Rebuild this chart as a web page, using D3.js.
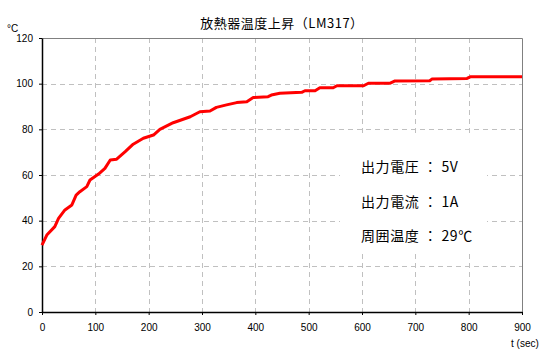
<!DOCTYPE html>
<html>
<head>
<meta charset="utf-8">
<script src="https://cdn.jsdelivr.net/npm/d3@7"></script>
<style>
  body { margin: 0; background: #fff; }
  svg { font-family: "Liberation Sans", "Noto Sans CJK JP", sans-serif; }
  .jp { font-family: "Noto Sans CJK JP", sans-serif; }
</style>
</head>
<body>
<svg id="chart"></svg>
<script>
// time (sec) and heat sink temperature (°C)
const timeSec = [0, 9, 24, 31, 43, 56, 64, 71, 84, 90, 106, 118, 128, 140, 156, 171, 190, 209, 221, 246, 278, 296, 315,
  327, 346, 365, 384, 396, 424, 430, 446, 487, 493, 512, 521, 546, 553, 603, 612, 653, 662, 727, 731, 797, 803, 900];
const tempC = [29.3, 33.7, 37.4, 41, 44.7, 46.9, 51.2, 52.7, 54.9, 57.8, 60.4, 62.9, 66.6, 66.9, 70.2, 73.5, 76.1, 77.5, 80, 82.9, 85.5, 87.7, 88,
  89.6, 90.7, 91.7, 92.1, 93.9, 94.3, 95, 95.8, 96.2, 96.9, 96.9, 98.2, 98.2, 99.1, 99.1, 100.2, 100.2, 101.2, 101.3, 102, 102.3, 103, 103];

const xTicks = [0, 100, 200, 300, 400, 500, 600, 700, 800, 900];
const yTicks = [0, 20, 40, 60, 80, 100, 120];

const titleText = '放熱器温度上昇（LM317）';
const notes = ['出力電圧 ： 5V', '出力電流 ： 1A', '周囲温度 ： 29℃'];

const config = {
    width: 553,
    height: 354,
    margin: { top: 38, right: 31, bottom: 42, left: 42 }
};

const innerW = config.width - config.margin.left - config.margin.right;
const innerH = config.height - config.margin.top - config.margin.bottom;

const svg = d3.select('#chart')
    .attr('width', config.width)
    .attr('height', config.height);

const chart = svg.append('g')
    .attr('transform', `translate(${config.margin.left}, ${config.margin.top})`);

const x = d3.scaleLinear().domain([0, 900]).range([0, innerW]);
const y = d3.scaleLinear().domain([0, 120]).range([innerH, 0]);

// Gridlines
chart.append('g')
    .selectAll('line.vgrid')
    .data(xTicks.filter(d => d > 0 && d < 900))
    .enter().append('line')
    .attr('x1', d => Math.round(x(d)) + 0.5)
    .attr('x2', d => Math.round(x(d)) + 0.5)
    .attr('y1', 0)
    .attr('y2', innerH)
    .attr('stroke', '#c0c0c0')
    .attr('stroke-dasharray', '5,4');

chart.append('g')
    .selectAll('line.hgrid')
    .data(yTicks.filter(d => d > 0 && d < 120))
    .enter().append('line')
    .attr('x1', 0)
    .attr('x2', innerW)
    .attr('y1', d => Math.round(y(d)) + 0.5)
    .attr('y2', d => Math.round(y(d)) + 0.5)
    .attr('stroke', '#c0c0c0')
    .attr('stroke-dasharray', '5,4');

// Top and right frame
chart.append('path')
    .attr('d', `M-3,0.5H${innerW + 0.5}V${innerH}`)
    .attr('fill', 'none')
    .attr('stroke', '#808080')
    .attr('stroke-width', 1);

// Axes
const xAxis = d3.axisBottom(x).tickValues(xTicks).tickSize(3).tickSizeOuter(0);
const yAxis = d3.axisLeft(y).tickValues(yTicks).tickSize(3).tickSizeOuter(0);

const xAxisGroup = chart.append('g')
    .attr('transform', `translate(0, ${innerH})`)
    .call(xAxis);
xAxisGroup.selectAll('text').attr('dy', '1.3em').style('font-size', '10px').attr('fill', '#000');

const yAxisGroup = chart.append('g').call(yAxis);
yAxisGroup.selectAll('text').attr('x', -9).style('font-size', '10px').attr('fill', '#000');

chart.selectAll('.domain').attr('stroke', '#000').attr('stroke-width', 1.5);
chart.selectAll('.tick line').attr('stroke', '#000');

// Data line
const line = d3.line()
    .x((d, i) => x(timeSec[i]))
    .y(d => y(d));

chart.append('path')
    .datum(tempC)
    .attr('fill', 'none')
    .attr('stroke', '#ff0000')
    .attr('stroke-width', 3)
    .attr('stroke-linejoin', 'round')
    .attr('d', line);

// Condition notes with white box behind
chart.append('rect')
    .attr('x', 340 - config.margin.left)
    .attr('y', 137 - config.margin.top)
    .attr('width', 147)
    .attr('height', 116)
    .attr('fill', '#fff');

chart.append('g')
    .selectAll('text')
    .data(notes)
    .enter().append('text')
    .attr('class', 'jp')
    .attr('x', 361 - config.margin.left)
    .attr('y', (d, i) => 166 + i * 34.5 - config.margin.top)
    .attr('dominant-baseline', 'central')
    .style('font-size', '14px')
    .style('letter-spacing', '0.6px')
    .text(d => d);

// Title and axis labels
svg.append('text')
    .attr('class', 'jp')
    .attr('x', 282)
    .attr('y', 22)
    .attr('text-anchor', 'middle')
    .attr('dominant-baseline', 'central')
    .style('font-size', '13px')
    .style('letter-spacing', '0.5px')
    .text(titleText);

svg.append('text')
    .attr('x', 7)
    .attr('y', 28)
    .attr('dominant-baseline', 'central')
    .style('font-size', '10px')
    .text('°C');

svg.append('text')
    .attr('x', 511)
    .attr('y', 343)
    .attr('dominant-baseline', 'central')
    .style('font-size', '10px')
    .text('t (sec)');
</script>
</body>
</html>
